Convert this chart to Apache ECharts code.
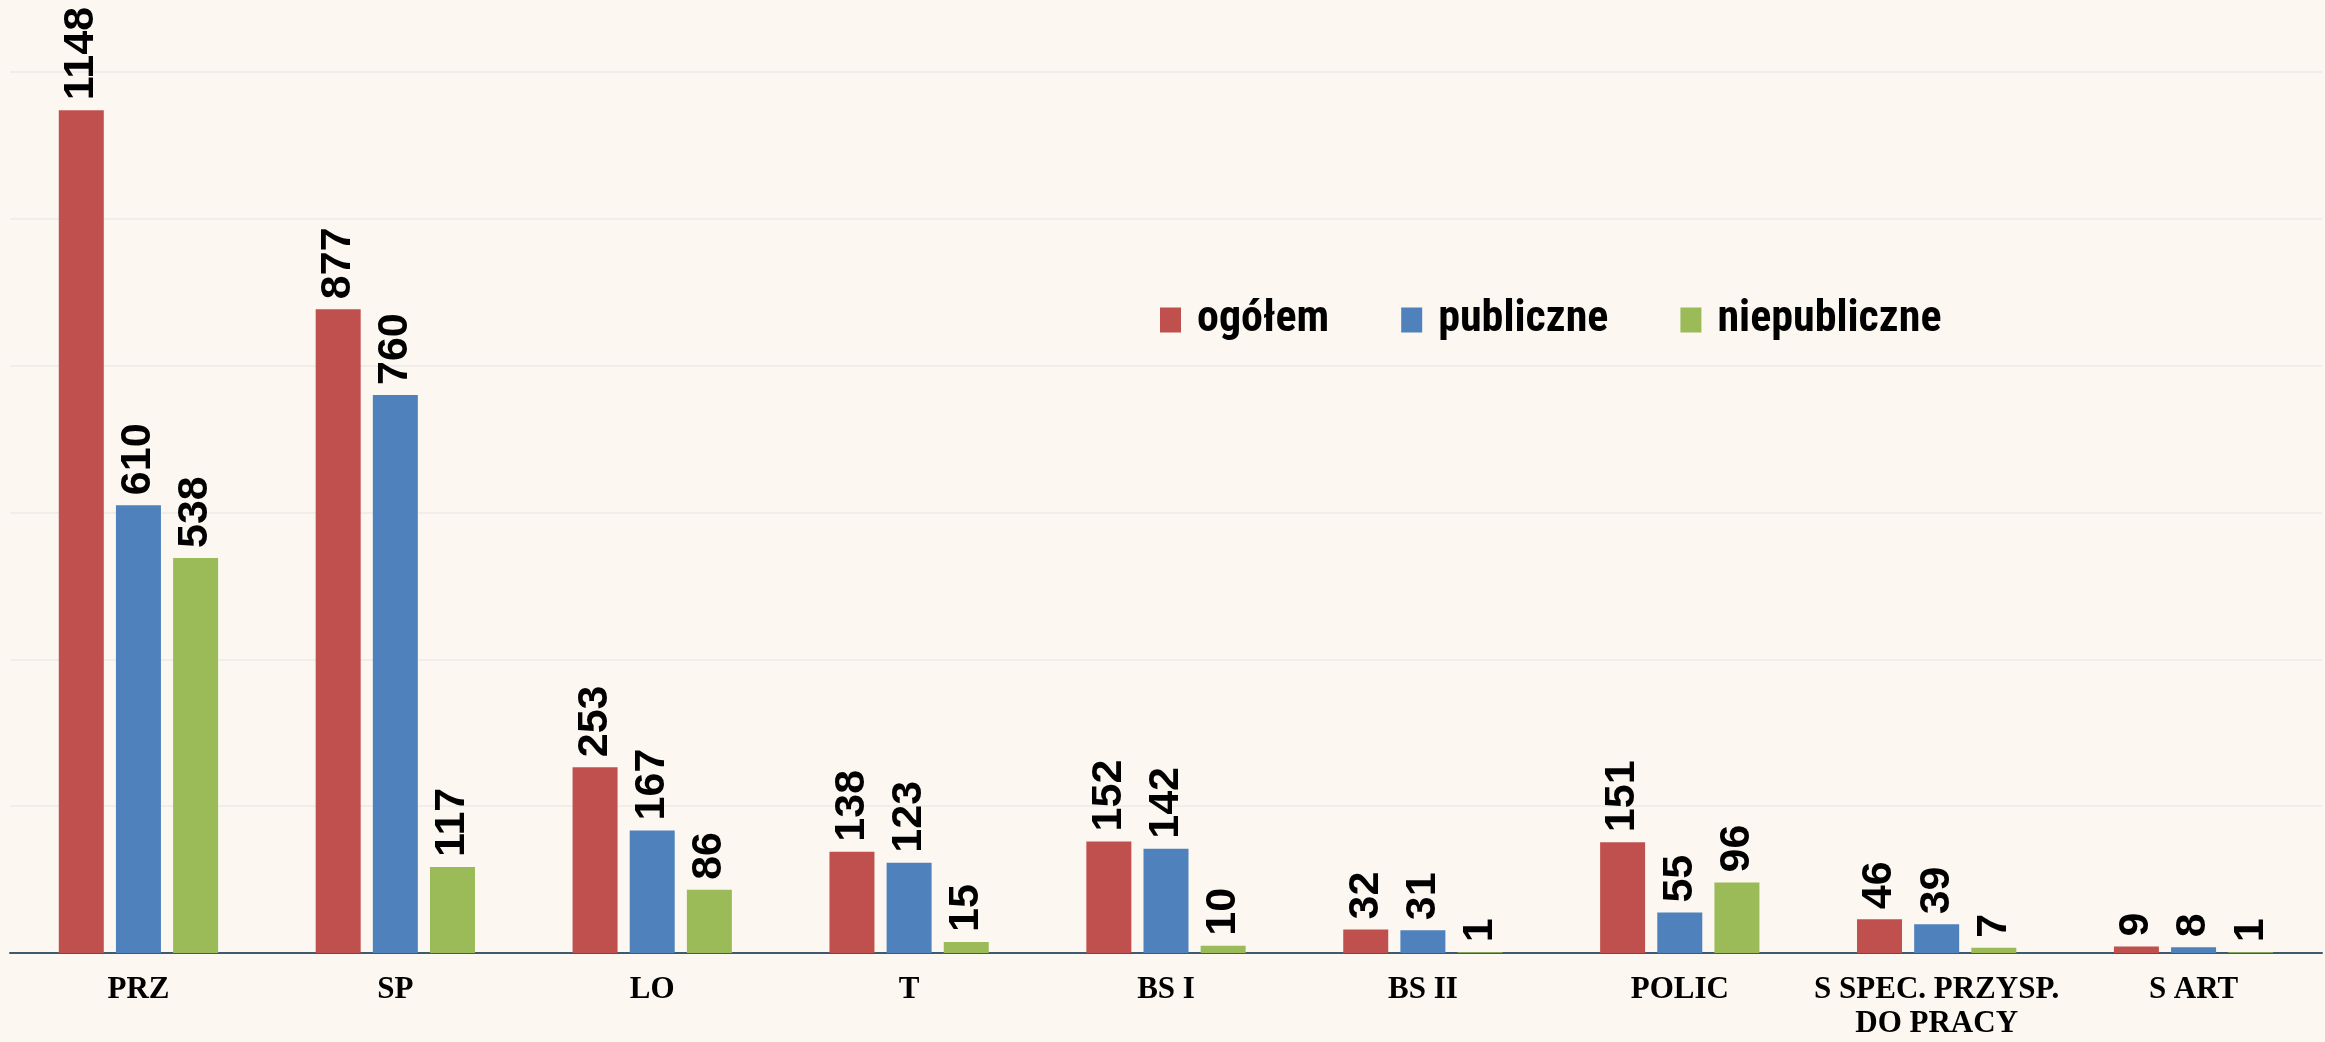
<!DOCTYPE html>
<html>
<head>
<meta charset="utf-8">
<script src="https://cdn.jsdelivr.net/npm/echarts@6/dist/echarts.min.js"></script>
<style>
  html, body { margin: 0; padding: 0; background: #FCF7F1; }
  #chart { width: 2325px; height: 1042px; }
</style>
</head>
<body>
<div id="chart"></div>
<script>
const categories = ['PRZ', 'SP', 'LO', 'T', 'BS I', 'BS II', 'POLIC', 'S SPEC. PRZYSP.\nDO PRACY', 'S ART']
const ogolem = [1148, 877, 253, 138, 152, 32, 151, 46, 9]
const publiczne = [610, 760, 167, 123, 142, 31, 55, 39, 8]
const niepubliczne = [538, 117, 86, 15, 10, 1, 96, 7, 1]

const COLORS = { red: '#C0504D', blue: '#4F81BD', green: '#9BBB59' }

const valueLabel = {
    show: true,
    position: 'top',
    rotate: 90,
    align: 'left',
    verticalAlign: 'middle',
    distance: 10,
    fontFamily: '"Liberation Sans", Arial, sans-serif',
    fontWeight: 'bold',
    fontSize: 43,
    color: '#000'
}

const makeSeries = (name, data, color) => ({
    name,
    type: 'bar',
    data,
    barWidth: 45,
    barGap: '27%',
    itemStyle: { color },
    label: valueLabel
})

const chart = echarts.init(document.getElementById('chart'), null, { renderer: 'canvas' })
chart.setOption({
    backgroundColor: '#FCF7F1',
    animation: false,
    grid: { left: 10, right: 3, top: 72, bottom: 89, containLabel: false },
    legend: {
        left: 1155,
        top: 293,
        itemWidth: 21,
        itemHeight: 25,
        itemGap: 72,
        icon: 'rect',
        formatter: name => '{t|' + name + '}',
        textStyle: {
            rich: {
                t: {
                    padding: [0, 0, 0, 11],
                    fontFamily: '"Liberation Sans Narrow", "Roboto Condensed", "Liberation Sans", sans-serif',
                    fontWeight: 'bold',
                    fontSize: 44,
                    color: '#000'
                }
            }
        }
    },
    xAxis: {
        type: 'category',
        data: categories,
        axisLine: { lineStyle: { color: '#3E5A6E', width: 2 } },
        axisTick: { show: false },
        axisLabel: {
            interval: 0,
            margin: 20,
            fontFamily: '"Liberation Serif", "Times New Roman", serif',
            fontWeight: 'bold',
            fontSize: 31,
            lineHeight: 34,
            color: '#000'
        }
    },
    yAxis: {
        type: 'value',
        min: 0,
        max: 1200,
        interval: 200,
        axisLine: { show: false },
        axisTick: { show: false },
        axisLabel: { show: false },
        splitLine: { lineStyle: { color: '#F0EDEA', width: 2 } }
    },
    series: [
        makeSeries('ogółem', ogolem, COLORS.red),
        makeSeries('publiczne', publiczne, COLORS.blue),
        makeSeries('niepubliczne', niepubliczne, COLORS.green)
    ]
})
</script>
</body>
</html>
